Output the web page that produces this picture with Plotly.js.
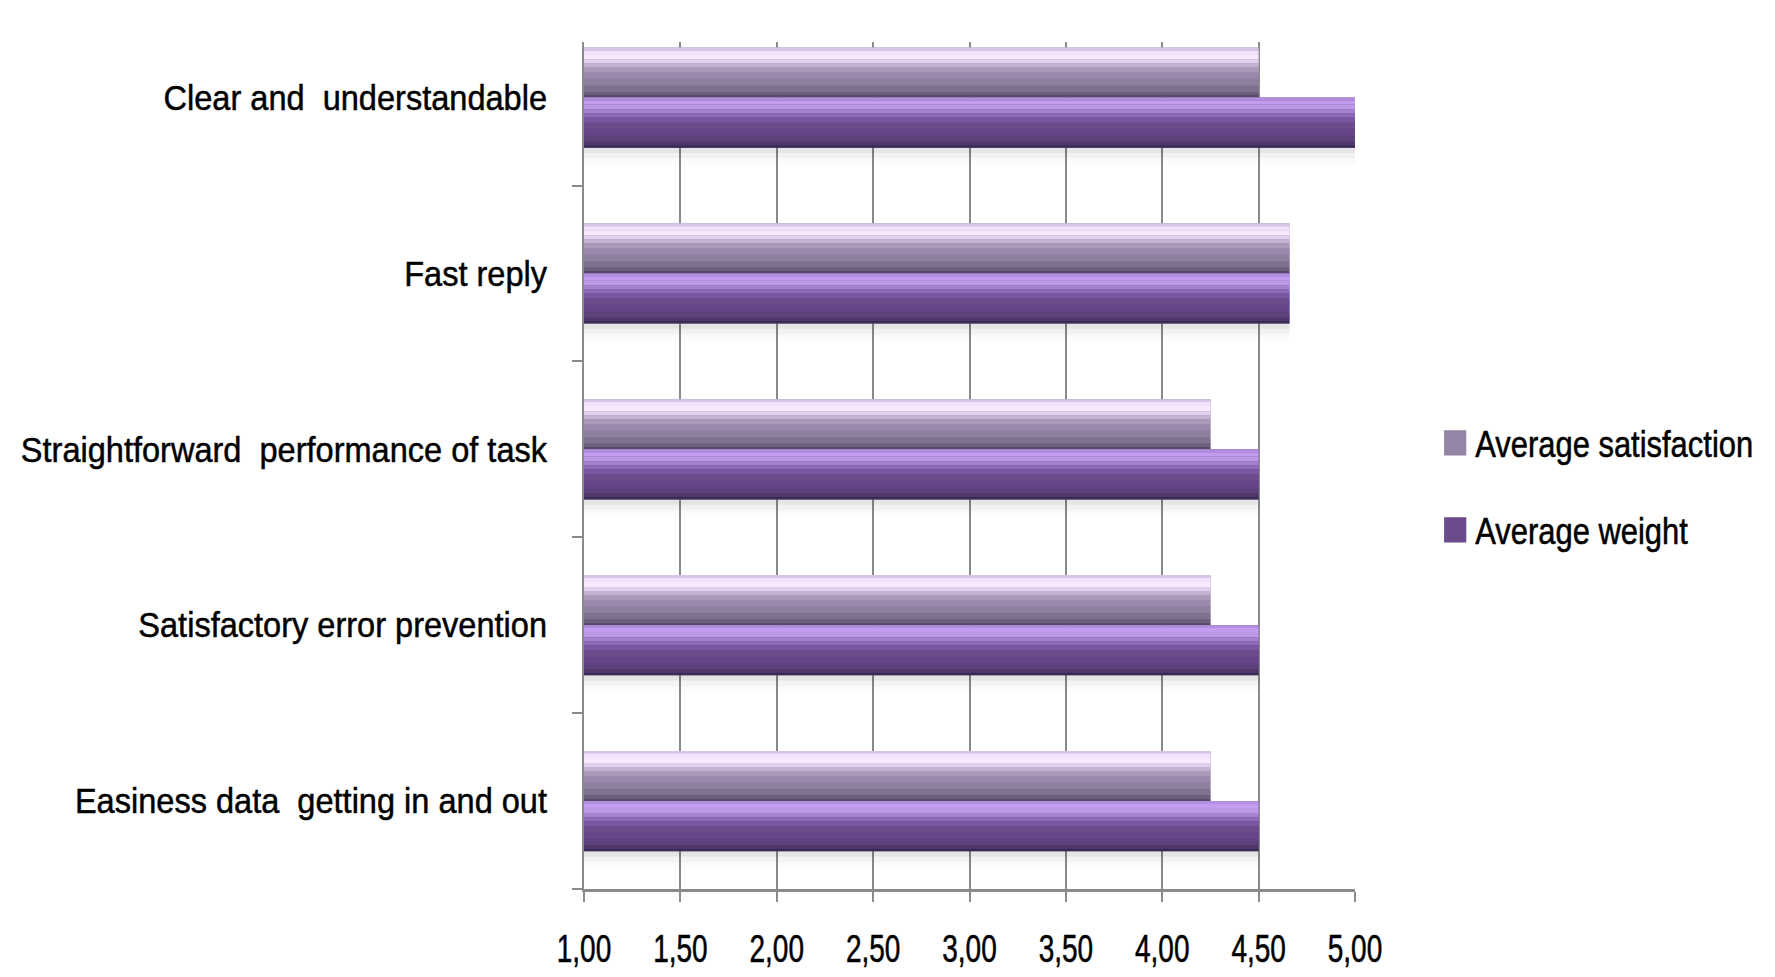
<!DOCTYPE html>
<html>
<head>
<meta charset="utf-8">
<script src="https://cdn.plot.ly/plotly-3.0.1.min.js"></script>
<style>
  html, body { margin: 0; padding: 0; background: #ffffff; }
  #chart { width: 1775px; height: 977px; }
  .xtick text, .ytick text, .legendtext { stroke: #000000; stroke-width: 0.5px; }
</style>
</head>
<body>
<div id="chart"></div>
<script>
// ---- data ----
var categories = [
  "Easiness data  getting in and out",
  "Satisfactory error prevention",
  "Straightforward  performance of task",
  "Fast reply",
  "Clear and  understandable"
];
var averageSatisfaction = [4.25, 4.25, 4.25, 4.66, 4.50];
var averageWeight       = [4.50, 4.50, 4.50, 4.66, 5.00];
var xTickValues = [1, 1.5, 2, 2.5, 3, 3.5, 4, 4.5, 5];
var seriesNames = ["Average satisfaction", "Average weight"];

// ---- styling ----
var FONT = "'Liberation Sans', Arial, sans-serif";
var AXIS_MIN = 1;
var BAR_W = 0.285;
// strips from top (0) to bottom (1) simulating the glossy gradient
var satStrips = [
  [0.00, 0.06, "#d9c4ec"], [0.06, 0.14, "#f3e3fa"], [0.14, 0.24, "#f7eafc"],
  [0.24, 0.32, "#e2cfec"], [0.32, 0.40, "#c6b3d4"], [0.40, 0.50, "#ac9abc"],
  [0.50, 0.62, "#9a89ab"], [0.62, 0.76, "#8e7e9f"], [0.76, 0.88, "#7f7090"],
  [0.88, 0.95, "#6c5e7c"], [0.95, 1.00, "#57496a"]
];
var wtStrips = [
  [0.00, 0.06, "#b48ede"], [0.06, 0.14, "#c29def"], [0.14, 0.24, "#bd98e6"],
  [0.24, 0.32, "#a683cf"], [0.32, 0.40, "#8d6ab6"], [0.40, 0.50, "#7657a0"],
  [0.50, 0.62, "#6a4b8c"], [0.62, 0.76, "#654787"], [0.76, 0.88, "#5c417c"],
  [0.88, 0.95, "#4d366a"], [0.95, 1.00, "#3b2a52"]
];

function lengths(values) { return values.map(function (v) { return v - AXIS_MIN; }); }

var traces = [];

// subtle shadow under the lower bar
var shadowLen = lengths(averageWeight.map(function (v, i) { return Math.max(v, averageSatisfaction[i]); }));
[[0.00, 0.03, "rgba(0,0,0,0.10)"], [0.03, 0.06, "rgba(0,0,0,0.05)"], [0.06, 0.09, "rgba(0,0,0,0.02)"]].forEach(function (s) {
  traces.push({
    type: "bar", orientation: "h", x: shadowLen, y: categories, base: AXIS_MIN,
    offset: -BAR_W - s[1], width: s[1] - s[0],
    marker: { color: s[2], line: { width: 0 } },
    showlegend: false, hoverinfo: "skip"
  });
});

function addSeries(name, values, topOffset, strips, legendColor, rank) {
  var len = lengths(values);
  traces.push({
    type: "bar", orientation: "h", name: name,
    x: len, y: categories, base: AXIS_MIN,
    offset: topOffset - BAR_W, width: BAR_W,
    marker: { color: legendColor, line: { width: 0 } },
    legendgroup: name, legendrank: rank, showlegend: true,
    hoverinfo: "skip"
  });
  strips.forEach(function (s) {
    var w = (s[1] - s[0]) * BAR_W;
    traces.push({
      type: "bar", orientation: "h", name: name,
      x: len, y: categories, base: AXIS_MIN,
      offset: topOffset - s[1] * BAR_W, width: w * 1.02,
      marker: { color: s[2], line: { width: 0 } },
      legendgroup: name, showlegend: false, hoverinfo: "skip"
    });
  });
}

addSeries(seriesNames[0], averageSatisfaction, BAR_W, satStrips, "#9484a6", 1);
addSeries(seriesNames[1], averageWeight, 0, wtStrips, "#6a4b8c", 2);

var layout = {
  width: 1775, height: 977,
  paper_bgcolor: "#ffffff", plot_bgcolor: "#ffffff",
  margin: { l: 584, r: 420, t: 42, b: 88, autoexpand: false },
  barmode: "overlay",
  separators: ", ",
  font: { family: FONT, color: "#000000", size: 34 },
  showlegend: true,
  legend: {
    x: 1.104, xanchor: "left", y: 0.475, yanchor: "middle",
    font: { family: FONT, size: 34, color: "#000000" },
    tracegroupgap: 40, traceorder: "grouped",
    itemwidth: 30, bgcolor: "rgba(0,0,0,0)"
  },
  xaxis: {
    range: [1, 5], tickmode: "array", tickvals: xTickValues,
    tickformat: ".2f",
    showgrid: true, gridcolor: "#8a8a8a", gridwidth: 2,
    showline: true, linecolor: "#8a8a8a", linewidth: 3,
    ticks: "outside", ticklen: 10, tickwidth: 2, tickcolor: "#8a8a8a",
    ticklabelstandoff: 17,
    tickfont: { family: FONT, size: 35, color: "#000000" },
    zeroline: false, fixedrange: true
  },
  yaxis: {
    type: "category", range: [-0.5, 4.316],
    showgrid: false,
    showline: true, linecolor: "#8a8a8a", linewidth: 2,
    ticks: "outside", tickson: "boundaries", ticklen: 10, tickwidth: 2, tickcolor: "#8a8a8a",
    ticklabelstandoff: 28,
    tickfont: { family: FONT, size: 35, color: "#000000" },
    zeroline: false, fixedrange: true
  }
};

// narrow/tall text like the original's condensed face
function squeeze(selector, sx, sy) {
  document.querySelectorAll(selector).forEach(function (t) {
    var bb = t.getBBox();
    var anchor = t.getAttribute("text-anchor") || "start";
    var cx = anchor === "end" ? bb.x + bb.width : (anchor === "middle" ? bb.x + bb.width / 2 : bb.x);
    var cy = bb.y + bb.height / 2;
    var old = t.getAttribute("transform") || "";
    t.setAttribute("transform", old + " translate(" + cx + "," + cy + ") scale(" + sx + "," + sy + ") translate(" + (-cx) + "," + (-cy) + ")");
  });
}

Plotly.newPlot("chart", traces, layout, { displayModeBar: false, staticPlot: true }).then(function () {
  squeeze(".xtick text", 0.8, 1.12);
  squeeze(".ytick text", 0.93, 1.0);
  squeeze(".legendtext", 0.91, 1.1);
  document.querySelectorAll(".legendpoints path").forEach(function (p) {
    var old = p.getAttribute("transform") || "";
    p.setAttribute("transform", old + " scale(1.85,2.1)");
  });
});
</script>
</body>
</html>
